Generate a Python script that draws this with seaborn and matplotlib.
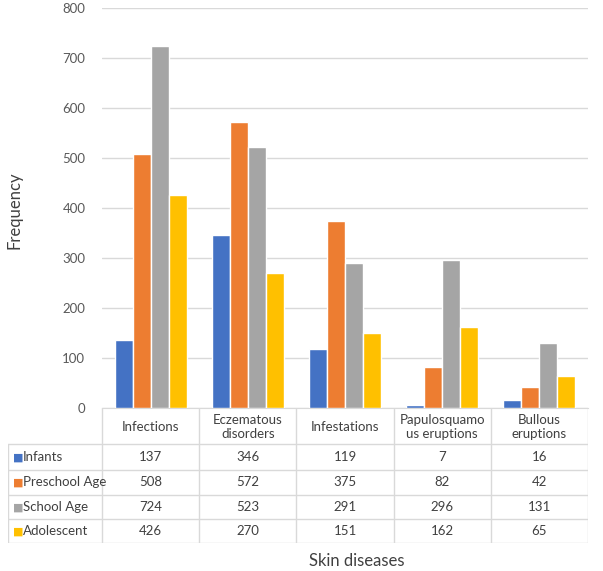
import numpy as np
import pandas as pd
import matplotlib
matplotlib.use("Agg")
import matplotlib.pyplot as plt
import seaborn as sns

categories = ["Infections", "Eczematous\ndisorders", "Infestations",
              "Papulosquamo\nus eruptions", "Bullous\neruptions"]
groups = ["Infants", "Preschool Age", "School Age", "Adolescent"]
infants = [137, 346, 119, 7, 16]
preschool = [508, 572, 375, 82, 42]
school = [724, 523, 291, 296, 131]
adolescent = [426, 270, 151, 162, 65]
colors = ["#4472C4", "#ED7D31", "#A5A5A5", "#FFC000"]

series = [infants, preschool, school, adolescent]
df = pd.DataFrame({
    "category": np.tile(categories, len(groups)),
    "group": np.repeat(groups, len(categories)),
    "value": np.concatenate(series),
})

sns.set_style("white")
plt.rcParams["font.family"] = ["Lato", "DejaVu Sans"]

W, H = 603, 571
fig = plt.figure(figsize=(W / 100, H / 100), dpi=100)

# main plot area in pixel coordinates
x0, x1 = 102, 588
y_top, y_bot = 8, 408
ax = fig.add_axes([x0 / W, 1 - y_bot / H, (x1 - x0) / W, (y_bot - y_top) / H])

sns.barplot(data=df, x="category", y="value", hue="group", palette=colors,
            width=0.74, saturation=1, ax=ax, legend=False, zorder=3)
ax.set_ylim(0, 800)
ax.set_xlim(-0.5, 4.5)
ax.set_yticks(range(0, 801, 100))
ax.yaxis.grid(True, color="#d9d9d9", linewidth=1, zorder=0)
ax.tick_params(axis="y", labelsize=9.5, colors="#595959", length=0, pad=12)
ax.set_xticks([])
ax.set_xlabel("")
ax.set_ylabel("")
for s in ["top", "right", "left"]:
    ax.spines[s].set_visible(False)
ax.spines["bottom"].set_color("#d9d9d9")

# data table beneath the chart
tx0, tx1 = 8, 588
ty0, ty1 = 408, 543
tax = fig.add_axes([tx0 / W, 1 - ty1 / H, (tx1 - tx0) / W, (ty1 - ty0) / H])
tax.set_xlim(tx0, tx1)
tax.set_ylim(ty1, ty0)
tax.axis("off")
lc = "#d9d9d9"
col_w = (x1 - x0) / len(categories)
row_edges = [444, 470, 495, 519, 543]
for i in range(len(categories) + 1):
    xv = x0 + i * col_w
    tax.plot([xv, xv], [ty0, ty1], color=lc, lw=1)
tax.plot([tx0, tx0], [row_edges[0], ty1], color=lc, lw=1)
for yv in row_edges:
    tax.plot([tx0, tx1], [yv, yv], color=lc, lw=1)

for i, cat in enumerate(categories):
    tax.text(x0 + (i + 0.5) * col_w, (ty0 + row_edges[0]) / 2 + 1, cat,
             ha="center", va="center", fontsize=9.5, color="#404040",
             linespacing=1.3)
for r, (g, vals, c) in enumerate(zip(groups, series, colors)):
    yc = (row_edges[r] + row_edges[r + 1]) / 2
    tax.text(tx0 + 5, yc, "\u25A0", ha="left", va="center", fontsize=8, color=c)
    tax.text(tx0 + 15, yc, g, ha="left", va="center", fontsize=9.5, color="#404040")
    for i, v in enumerate(vals):
        tax.text(x0 + (i + 0.5) * col_w, yc, str(v), ha="center", va="center",
                 fontsize=9.5, color="#404040")

fig.text(15 / W, 1 - 210 / H, "Frequency", rotation=90, ha="center",
         va="center", fontsize=12, color="#404040")
fig.text(357 / W, 1 - 561 / H, "Skin diseases", ha="center", va="center",
         fontsize=12, color="#404040")

fig.savefig("out.png", dpi=100)
